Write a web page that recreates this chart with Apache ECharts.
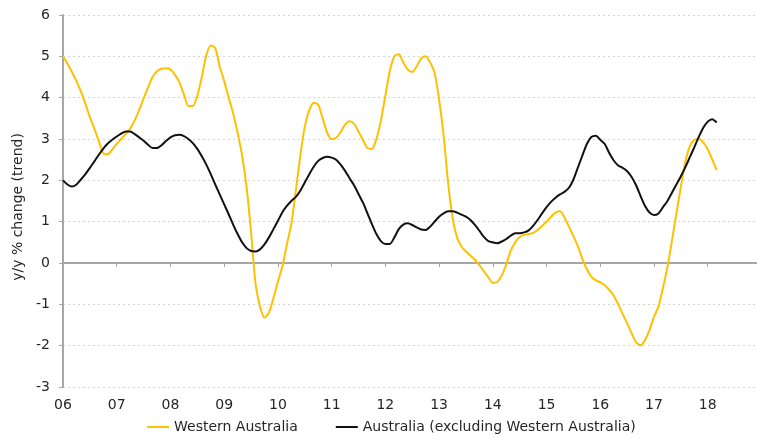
<!DOCTYPE html>
<html>
<head>
<meta charset="utf-8">
<script src="https://cdn.jsdelivr.net/npm/echarts@6/dist/echarts.min.js"></script>
<style>
  html, body { margin: 0; padding: 0; background: #fff; }
  #chart { width: 757px; height: 438px; }
</style>
</head>
<body>
<div id="chart"></div>
<script>
// Monthly axis, Jan 2006 – Dec 2018
const firstYear = 2006;
const lastYear = 2018;
const months = [];
for (let y = firstYear; y <= lastYear; y++) {
  for (let m = 1; m <= 12; m++) {
    months.push(y + '-' + (m < 10 ? '0' + m : m));
  }
}

const yTicks = { min: -3, max: 6, step: 1 };
const seriesNames = ['Western Australia', 'Australia (excluding Western Australia)'];

// y/y % change (trend), monthly from Jan 2006
const westernAustralia = [
  5.0, 4.82, 4.62, 4.4, 4.15, 3.85, 3.53, 3.25, 2.95, 2.65, 2.63, 2.75,       // 2006
  2.88, 3.0, 3.12, 3.25, 3.45, 3.7, 3.98, 4.25, 4.5, 4.64, 4.7, 4.71,          // 2007
  4.68, 4.55, 4.37, 4.08, 3.8, 3.8, 4.05, 4.5, 5.02, 5.26, 5.2, 4.75,          // 2008
  4.4, 4.0, 3.62, 3.15, 2.6, 1.83, 0.75, -0.5, -1.05, -1.32, -1.2, -0.85,      // 2009
  -0.45, -0.08, 0.45, 0.95, 1.75, 2.6, 3.3, 3.7, 3.88, 3.83, 3.5, 3.15,        // 2010
  3.0, 3.03, 3.17, 3.35, 3.43, 3.37, 3.18, 2.97, 2.78, 2.76, 3.0, 3.45,        // 2011
  4.05, 4.65, 5.0, 5.05, 4.85, 4.68, 4.62, 4.76, 4.95, 5.0, 4.85, 4.6,         // 2012
  3.95, 3.1, 1.95, 1.1, 0.62, 0.4, 0.28, 0.18, 0.08, -0.05, -0.2, -0.35,       // 2013
  -0.48, -0.46, -0.3, -0.03, 0.3, 0.5, 0.63, 0.68, 0.7, 0.73, 0.8, 0.9,        // 2014
  1.0, 1.12, 1.22, 1.25, 1.1, 0.88, 0.65, 0.4, 0.1, -0.15, -0.33, -0.42,       // 2015
  -0.47, -0.54, -0.65, -0.79, -1.0, -1.23, -1.46, -1.7, -1.92, -1.99, -1.86, -1.62, // 2016
  -1.3, -1.05, -0.6, -0.1, 0.54, 1.2, 1.85, 2.45, 2.82, 2.98, 3.0, 2.92,       // 2017
  2.75, 2.5, 2.25                                                               // 2018
];

const australiaExWA = [
  2.0, 1.9, 1.85, 1.9, 2.02, 2.15, 2.3, 2.46, 2.62, 2.77, 2.89, 2.98,          // 2006
  3.06, 3.13, 3.18, 3.18, 3.12, 3.04, 2.96, 2.86, 2.78, 2.78, 2.85, 2.95,      // 2007
  3.04, 3.09, 3.1, 3.07, 3.0, 2.9, 2.76, 2.58, 2.38, 2.15, 1.9, 1.66,          // 2008
  1.42, 1.18, 0.93, 0.7, 0.5, 0.36, 0.29, 0.28, 0.33, 0.45, 0.62, 0.82,        // 2009
  1.02, 1.23, 1.38, 1.5, 1.6, 1.75, 1.95, 2.15, 2.33, 2.47, 2.54, 2.57,        // 2010
  2.55, 2.5, 2.38, 2.23, 2.05, 1.88, 1.67, 1.46, 1.2, 0.94, 0.7, 0.53,         // 2011
  0.46, 0.46, 0.62, 0.82, 0.93, 0.96, 0.92, 0.86, 0.81, 0.8, 0.88, 1.0,        // 2012
  1.12, 1.2, 1.25, 1.25, 1.22, 1.17, 1.12, 1.04, 0.92, 0.78, 0.63, 0.53,       // 2013
  0.5, 0.48, 0.52, 0.58, 0.66, 0.72, 0.72, 0.74, 0.79, 0.9, 1.04, 1.2,         // 2014
  1.35, 1.48, 1.58, 1.66, 1.72, 1.82, 2.02, 2.31, 2.6, 2.88, 3.05, 3.08,       // 2015
  2.98, 2.88, 2.66, 2.48, 2.36, 2.3, 2.22, 2.08, 1.88, 1.62, 1.38, 1.22,       // 2016
  1.16, 1.2, 1.35, 1.5, 1.7, 1.9, 2.1, 2.32, 2.56, 2.8, 3.05, 3.27,            // 2017
  3.42, 3.48, 3.4                                                               // 2018
];

const FONT = '"DejaVu Sans", Verdana, sans-serif';
const TEXT = '#262626';
const AXIS = '#A6A6A6';
const yearStart = (index) => index % 12 === 0;

const chart = echarts.init(document.getElementById('chart'), null, { renderer: 'canvas' });

chart.setOption({
  animation: false,
  backgroundColor: '#fff',
  textStyle: { fontFamily: FONT },
  grid: { left: 63, right: 0, top: 15, bottom: 51, containLabel: false },
  legend: {
    left: 147,
    top: 420,
    padding: 0,
    icon: 'rect',
    itemWidth: 22,
    itemHeight: 2,
    itemGap: 38,
    textStyle: { fontFamily: FONT, fontSize: 14, color: TEXT },
    data: seriesNames
  },
  xAxis: [
    {
      // year labels along the bottom of the plot
      type: 'category',
      position: 'bottom',
      data: months,
      boundaryGap: false,
      axisLine: { show: false, onZero: false },
      axisTick: { show: false },
      splitLine: { show: false },
      axisLabel: {
        interval: yearStart,
        margin: 11,
        color: TEXT,
        fontFamily: FONT,
        fontSize: 14,
        formatter: v => v.slice(2, 4)
      }
    },
    {
      // zero line with yearly ticks
      type: 'category',
      position: 'bottom',
      data: months,
      boundaryGap: false,
      axisLine: { show: true, onZero: true, onZeroAxisIndex: 0, lineStyle: { color: AXIS, width: 2 } },
      axisTick: { show: true, interval: yearStart, length: 4, lineStyle: { color: AXIS, width: 1 } },
      axisLabel: { show: false },
      splitLine: { show: false }
    }
  ],
  yAxis: {
    type: 'value',
    min: yTicks.min,
    max: yTicks.max,
    interval: yTicks.step,
    name: 'y/y % change (trend)',
    nameLocation: 'middle',
    nameRotate: 90,
    nameGap: 37,
    nameTextStyle: { fontFamily: FONT, fontSize: 14, color: TEXT, padding: [0, 12, 0, 0] },
    axisLine: { show: true, lineStyle: { color: AXIS, width: 2 } },
    axisTick: { show: true, length: 4, lineStyle: { color: AXIS } },
    axisLabel: { margin: 13, color: TEXT, fontFamily: FONT, fontSize: 14 },
    splitLine: { show: true, lineStyle: { color: '#D4D4D4', type: [2, 3], width: 1 } }
  },
  series: [
    {
      name: seriesNames[0],
      type: 'line',
      xAxisIndex: 0,
      data: westernAustralia,
      symbol: 'none',
      smooth: 0.25,
      lineStyle: { color: '#FFC000', width: 2 },
      itemStyle: { color: '#FFC000' },
      z: 3
    },
    {
      name: seriesNames[1],
      type: 'line',
      xAxisIndex: 0,
      data: australiaExWA,
      symbol: 'none',
      smooth: 0.25,
      lineStyle: { color: '#111111', width: 2 },
      itemStyle: { color: '#111111' },
      z: 4
    }
  ]
});
</script>
</body>
</html>
